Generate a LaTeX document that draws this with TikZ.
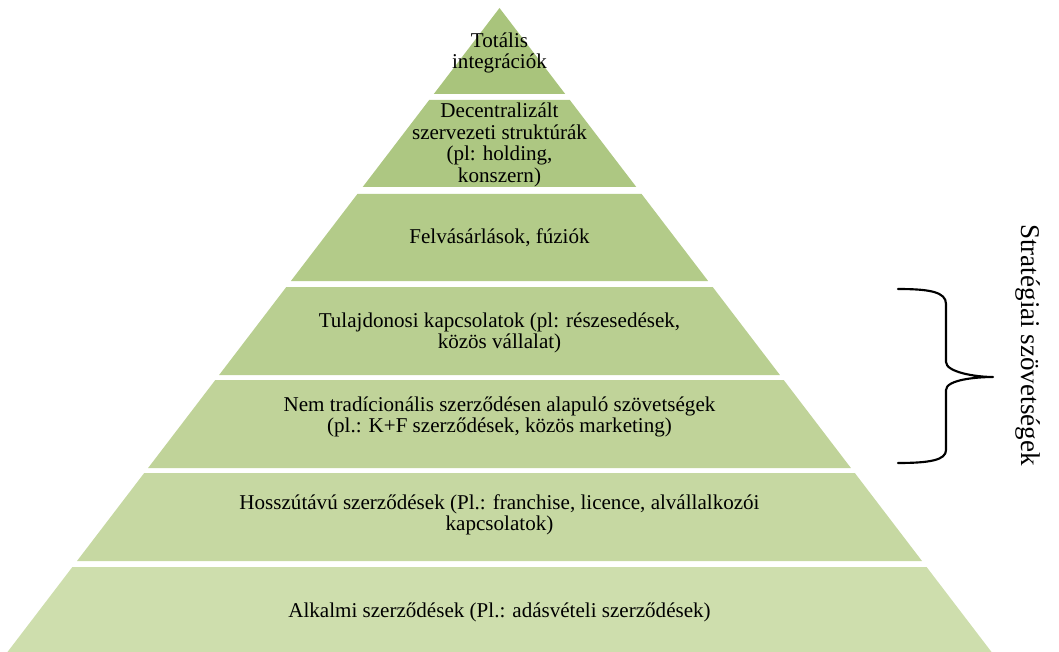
\documentclass[tikz,border=0pt]{standalone}
\usepackage{fontspec}
\setmainfont{Liberation Serif}
\begin{document}
\begin{tikzpicture}[x=0.75pt,y=-0.75pt,
  lbl/.style={align=center,font=\fontsize{15.8}{16.2}\selectfont,inner sep=0pt},
  bracestyle/.style={line width=1.6pt,line cap=round,line join=round}]
\useasboundingbox (0,0) rectangle (1059,652);
\definecolor{c1}{HTML}{A9C47C}
\definecolor{c2}{HTML}{ADC782}
\definecolor{c3}{HTML}{B3CB89}
\definecolor{c4}{HTML}{B9CF91}
\definecolor{c5}{HTML}{C0D399}
\definecolor{c6}{HTML}{C6D8A2}
\definecolor{c7}{HTML}{CEDEAD}
\begin{scope}
\clip (0,0) rectangle (1059,652);
\fill[c1] (499.5,8) -- (565.2,94) -- (433.8,94) -- cycle;
\fill[c2] (429.2,100) -- (569.8,100) -- (636.3,187) -- (362.7,187) -- cycle;
\fill[c3] (357.4,194) -- (641.6,194) -- (708.1,281) -- (290.9,281) -- cycle;
\fill[c4] (286.3,287) -- (712.7,287) -- (779.9,375) -- (219.1,375) -- cycle;
\fill[c5] (215.3,380) -- (783.7,380) -- (850.9,468) -- (148.1,468) -- cycle;
\fill[c6] (144.2,473) -- (854.8,473) -- (922.0,561) -- (77.0,561) -- cycle;
\fill[c7] (72.4,567) -- (926.6,567) -- (993.8,655) -- (5.2,655) -- cycle;
\end{scope}
\node[lbl] (l1) at (499.5,53) {Totális\\integrációk};
\node[lbl] (l2) at (499.5,145) {Decentralizált\\szervezeti struktúrák\\(pl: holding,\\konszern)};
\node[lbl] (l3) at (499.5,238) {Felvásárlások, fúziók};
\node[lbl] (l4) at (499.5,333) {Tulajdonosi kapcsolatok (pl: részesedések,\\közös vállalat)};
\node[lbl] (l5) at (499.5,417) {Nem tradícionális szerződésen alapuló szövetségek\\(pl.: K+F szerződések, közös marketing)};
\node[lbl] (l6) at (499.5,515) {Hosszútávú szerződések (Pl.: franchise, licence, alvállalkozói\\kapcsolatok)};
\node[lbl] (l7) at (499.5,612) {Alkalmi szerződések (Pl.: adásvételi szerződések)};
\draw[bracestyle] (898,289) .. controls (930,289) and (946,292) .. (946,304)
  -- (946,362) .. controls (946,372) and (975,377) .. (993,377)
  .. controls (975,377) and (946,380) .. (946,390)
  -- (946,450) .. controls (946,460) and (930,463) .. (898,463);
\node[rotate=-90,anchor=base,inner sep=0pt,font=\fontsize{20.3}{22}\selectfont] (sz) at (1021,345) {Stratégiai szövetségek};
\end{tikzpicture}
\end{document}
